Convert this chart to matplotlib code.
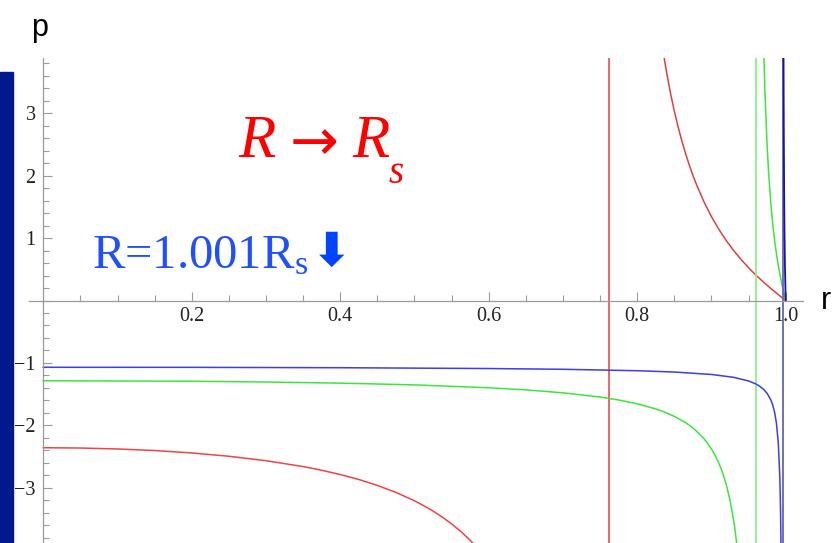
import numpy as np
import matplotlib
matplotlib.use("Agg")
import matplotlib.pyplot as plt
from matplotlib.patches import Rectangle
from matplotlib.ticker import FixedLocator

# pressure p(r), r in units of R
red_left_r = [0, 0.05, 0.1, 0.15, 0.2, 0.25, 0.3, 0.35, 0.375, 0.4, 0.425, 0.45, 0.475, 0.5, 0.5125,
              0.525, 0.5375, 0.55, 0.5625, 0.575, 0.5875, 0.6, 0.65, 0.7]
red_left_p = [-2.359, -2.364, -2.379, -2.404, -2.443, -2.496, -2.567, -2.661, -2.720, -2.789, -2.868,
              -2.963, -3.075, -3.210, -3.288, -3.374, -3.471, -3.580, -3.702, -3.842, -4.001, -4.186,
              -5.347, -8.42]
red_right_r = [0.83, 0.835, 0.84, 0.845, 0.85, 0.855, 0.86, 0.865, 0.87, 0.875, 0.88, 0.89, 0.9, 0.91,
               0.92, 0.93, 0.94, 0.95, 0.96, 0.97, 0.98, 0.99, 1.0]
red_right_p = [4.389, 3.983, 3.628, 3.315, 3.036, 2.787, 2.564, 2.361, 2.177, 2.008, 1.854, 1.580, 1.345,
               1.140, 0.960, 0.800, 0.656, 0.526, 0.406, 0.296, 0.193, 0.095, 0.0]

green_left_r = [0, 0.2, 0.3, 0.4, 0.5, 0.6, 0.65, 0.7, 0.75, 0.775, 0.8, 0.825, 0.8375, 0.85, 0.865,
                0.87, 0.875, 0.88, 0.89, 0.895, 0.9, 0.905, 0.91, 0.915, 0.92, 0.925, 0.93, 0.9325,
                0.935, 0.94]
green_left_p = [-1.286, -1.294, -1.306, -1.324, -1.352, -1.398, -1.432, -1.479, -1.547, -1.594, -1.655,
                -1.738, -1.791, -1.856, -1.956, -1.997, -2.042, -2.093, -2.215, -2.291, -2.379, -2.482,
                -2.607, -2.759, -2.950, -3.196, -3.527, -3.739, -3.995, -4.711]
green_right_r = [0.97, 0.9705, 0.972, 0.975, 0.977, 0.98, 0.9825, 0.985, 0.9875, 0.99, 0.9925, 0.995, 0.9975, 1.0]
green_right_p = [4.227, 3.990, 3.375, 2.487, 2.056, 1.558, 1.237, 0.974, 0.754, 0.567, 0.403, 0.258, 0.125, 0.0]

blue_left_r = [0, 0.2, 0.4, 0.6, 0.7, 0.8, 0.85, 0.9, 0.93, 0.95, 0.96, 0.965, 0.97, 0.975, 0.98, 0.9825,
               0.985, 0.9875, 0.99, 0.992, 0.9925, 0.993, 0.9935, 0.994, 0.995]
blue_left_p = [-1.070, -1.071, -1.077, -1.090, -1.102, -1.125, -1.146, -1.185, -1.231, -1.289, -1.338,
               -1.374, -1.421, -1.488, -1.593, -1.672, -1.785, -1.960, -2.272, -2.793, -3.014, -3.308,
               -3.718, -4.330, -7.390]
blue_right_r = [0.9971, 0.9972, 0.9975, 0.998, 0.9985, 0.999, 1.0]
blue_right_p = [4.077, 3.62, 2.624, 1.615, 0.999, 0.577, 0.0]

# where each curve jumps from -inf to +inf
red_jump = 0.762
green_jump = 0.96
blue_jump = 0.996

x_major = [0.2, 0.4, 0.6, 0.8, 1.0]
x_labels = ["0.2", "0.4", "0.6", "0.8", "1.0"]
y_major = [-3, -2, -1, 1, 2, 3]
y_labels = ["\u22123", "\u22122", "\u22121", "1", "2", "3"]

W, H = 834, 543


def fx(px):
    return px / W


def fy(py):
    return 1 - py / H


plt.rcParams['font.family'] = 'Liberation Serif'
plt.rcParams['mathtext.fontset'] = 'custom'
plt.rcParams['mathtext.rm'] = 'Liberation Serif'
plt.rcParams['mathtext.it'] = 'Liberation Serif:italic'

fig = plt.figure(figsize=(8.34, 5.43), dpi=100)
ax = fig.add_axes([0, 0, 1, 1])
ax.set_xlim(-0.0583, 1.0651)
ax.set_ylim(-3.886, 4.816)

y_top = 3.886
clip = Rectangle((-0.02, -3.9), 1.05, y_top + 3.9, transform=ax.transData)

lines = []
lines += ax.plot(red_left_r, red_left_p, color='#ee4444', lw=1.1)
lines += ax.plot(red_right_r, red_right_p, color='#e04040', lw=1.1)
lines.append(ax.axvline(red_jump, color='#ec3c3c', lw=1.1))
lines += ax.plot(green_left_r, green_left_p, color='#3ce63c', lw=1.1)
lines += ax.plot(green_right_r, green_right_p, color='#3ce63c', lw=1.1)
lines.append(ax.axvline(green_jump, color='#8cf08c', lw=1.3))
lines += ax.plot(blue_left_r, blue_left_p, color='#3c3cf0', lw=1.1)
lines.append(ax.axvline(blue_jump, color='#6464b4', lw=1.3))
lines += ax.plot(blue_right_r, blue_right_p, color='#1414a0', lw=1.3)
for ln in lines:
    ln.set_clip_path(clip)

# axes through the origin, Mathematica style
for side in ['top', 'right']:
    ax.spines[side].set_visible(False)
ax.spines['left'].set_position(('data', 0))
ax.spines['bottom'].set_position(('data', 0))
ax.spines['left'].set_bounds(-3.9, y_top)
ax.spines['bottom'].set_bounds(-0.019, 1.023)
for side in ['left', 'bottom']:
    ax.spines[side].set_color('#9a9a9a')
    ax.spines[side].set_linewidth(0.9)
ax.set_facecolor('white')

ax.xaxis.set_major_locator(FixedLocator(x_major))
ax.set_xticklabels(x_labels)
ax.xaxis.set_minor_locator(FixedLocator(np.arange(0.05, 1.001, 0.05)))
ax.yaxis.set_major_locator(FixedLocator(y_major))
ax.set_yticklabels(y_labels)
ax.yaxis.set_minor_locator(FixedLocator(np.arange(-3.8, 3.81, 0.2)))

ax.tick_params(axis='both', which='major', direction='in', length=6.5, width=0.8,
               color='#9a9a9a', labelsize=14.5, labelcolor='#222222')
ax.tick_params(axis='both', which='minor', direction='in', length=4.2, width=0.8,
               color='#9a9a9a')
ax.tick_params(axis='x', which='major', pad=5)
ax.tick_params(axis='y', which='major', pad=5.5)

# blue bar on the left edge
fig.add_artist(Rectangle((0, 0), fx(13), 1 - 72 / H, transform=fig.transFigure,
                         color='#001a8e', zorder=5))

# axis names
fig.text(fx(31), fy(36), 'p', family='Liberation Sans', fontsize=22, va='baseline')
fig.text(fx(821), fy(309), 'r', family='Liberation Sans', fontsize=22, va='baseline')

# red annotation
fig.text(fx(238), fy(157), 'R', style='italic', fontsize=44, color='#ff0000', va='baseline')
fig.text(fx(290), fy(160), '\u2192', family='DejaVu Sans', fontsize=42, color='#ff0000', va='baseline')
fig.text(fx(352), fy(157), 'R', style='italic', fontsize=44, color='#ff0000', va='baseline')
fig.text(fx(389), fy(183), 's', style='italic', fontsize=28, color='#ff0000', va='baseline')

# blue annotation
fig.text(fx(92), fy(268), r'R=1.001R$_{\mathrm{s}}$', fontsize=35, color='#1f4fff', va='baseline')
fig.text(fx(312), fy(266), '\u2b07', family='DejaVu Sans', fontweight='bold', fontsize=34,
         color='#0044ff', va='baseline')

fig.savefig('out.png', dpi=100)
